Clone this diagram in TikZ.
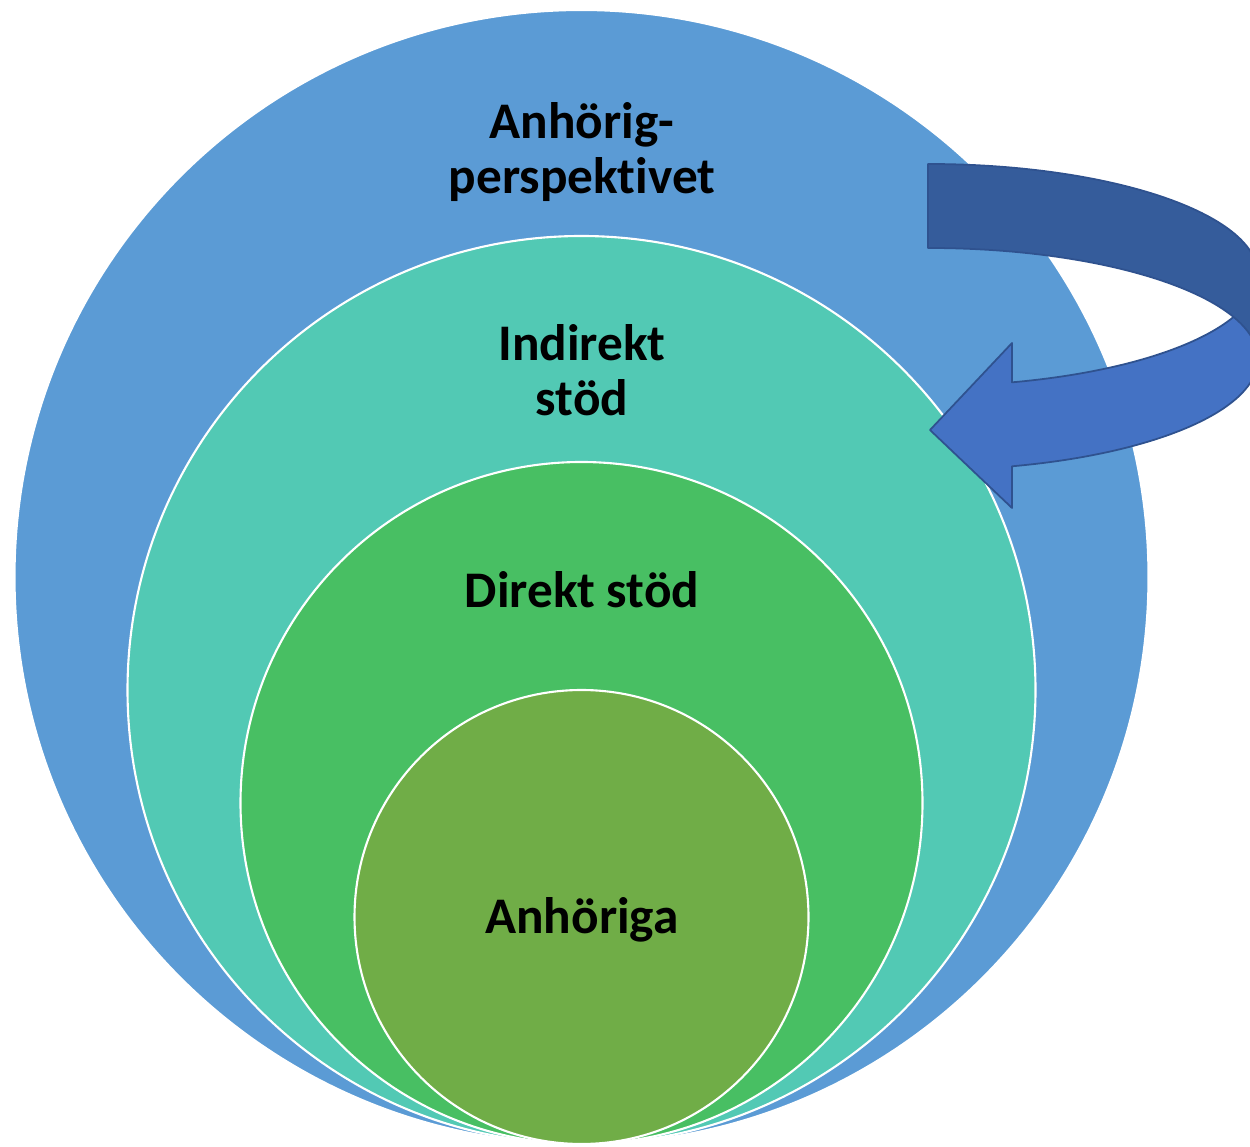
\documentclass[tikz,border=0pt]{standalone}
\usepackage{fontspec}
\setmainfont{Carlito}[Ligatures=NoCommon]

\definecolor{perspblue}{HTML}{5B9BD5}
\definecolor{indirteal}{HTML}{52C9B4}
\definecolor{direkgreen}{HTML}{48BF63}
\definecolor{anhgreen}{HTML}{70AD47}
\definecolor{arrowlight}{HTML}{4472C4}
\definecolor{arrowdark}{HTML}{355C9B}
\definecolor{arrowline}{HTML}{2F528F}

\tikzset{
    ring/.style={circle, draw=white, line width=0.6pt, inner sep=0pt},
    ringtext/.style={align=center, inner sep=0pt, text=black,
        font=\bfseries\fontsize{14.6}{15.8}\selectfont},
    arrowfront/.style={fill=arrowlight, draw=arrowline, line width=0.5pt, line join=round},
    arrowback/.style={fill=arrowdark, draw=arrowline, line width=0.5pt, line join=round}
}

\begin{document}
\begin{tikzpicture}

    \useasboundingbox (0,0) rectangle (12.5,11.46);
    \clip (0,0) rectangle (12.5,11.46);

    % nested circles, all touching at the bottom
    \node[ring, fill=perspblue, minimum size=11.34cm] (perspektiv) at (5.815,5.69) {};
    \node[ring, fill=indirteal, minimum size=9.08cm] (indirekt) at (5.815,4.56) {};
    \node[ring, fill=direkgreen, minimum size=6.82cm] (direkt) at (5.815,3.43) {};
    \node[ring, fill=anhgreen, minimum size=4.54cm] (anhoriga) at (5.815,2.29) {};

    % texts
    \node[ringtext] (perspektivtext) at (5.82,9.94) {Anhörig-\\perspektivet};
    \node[ringtext] (indirekttext) at (5.82,7.76) {Indirekt\\stöd};
    \node[ringtext] (direkttext) at (5.82,5.56) {Direkt stöd};
    \node[ringtext] (anhorigatext) at (5.82,2.26) {Anhöriga};

    % curved arrow, front part with head
    \filldraw[arrowfront] (12.58,8.71)
        arc[start angle=0, end angle=-75.25, x radius=3.3, y radius=1.11]
        -- (10.12,8.03) -- (9.30,7.16) -- (10.12,6.38) -- (10.12,6.797)
        arc[start angle=-75.25, end angle=0, x radius=3.3, y radius=1.11]
        -- cycle;

    % curved arrow, back part
    \filldraw[arrowback] (9.28,9.82)
        arc[start angle=90, end angle=0, x radius=3.3, y radius=1.11]
        -- (12.58,7.87)
        arc[start angle=0, end angle=90, x radius=3.3, y radius=1.11]
        -- cycle;

\end{tikzpicture}
\end{document}
